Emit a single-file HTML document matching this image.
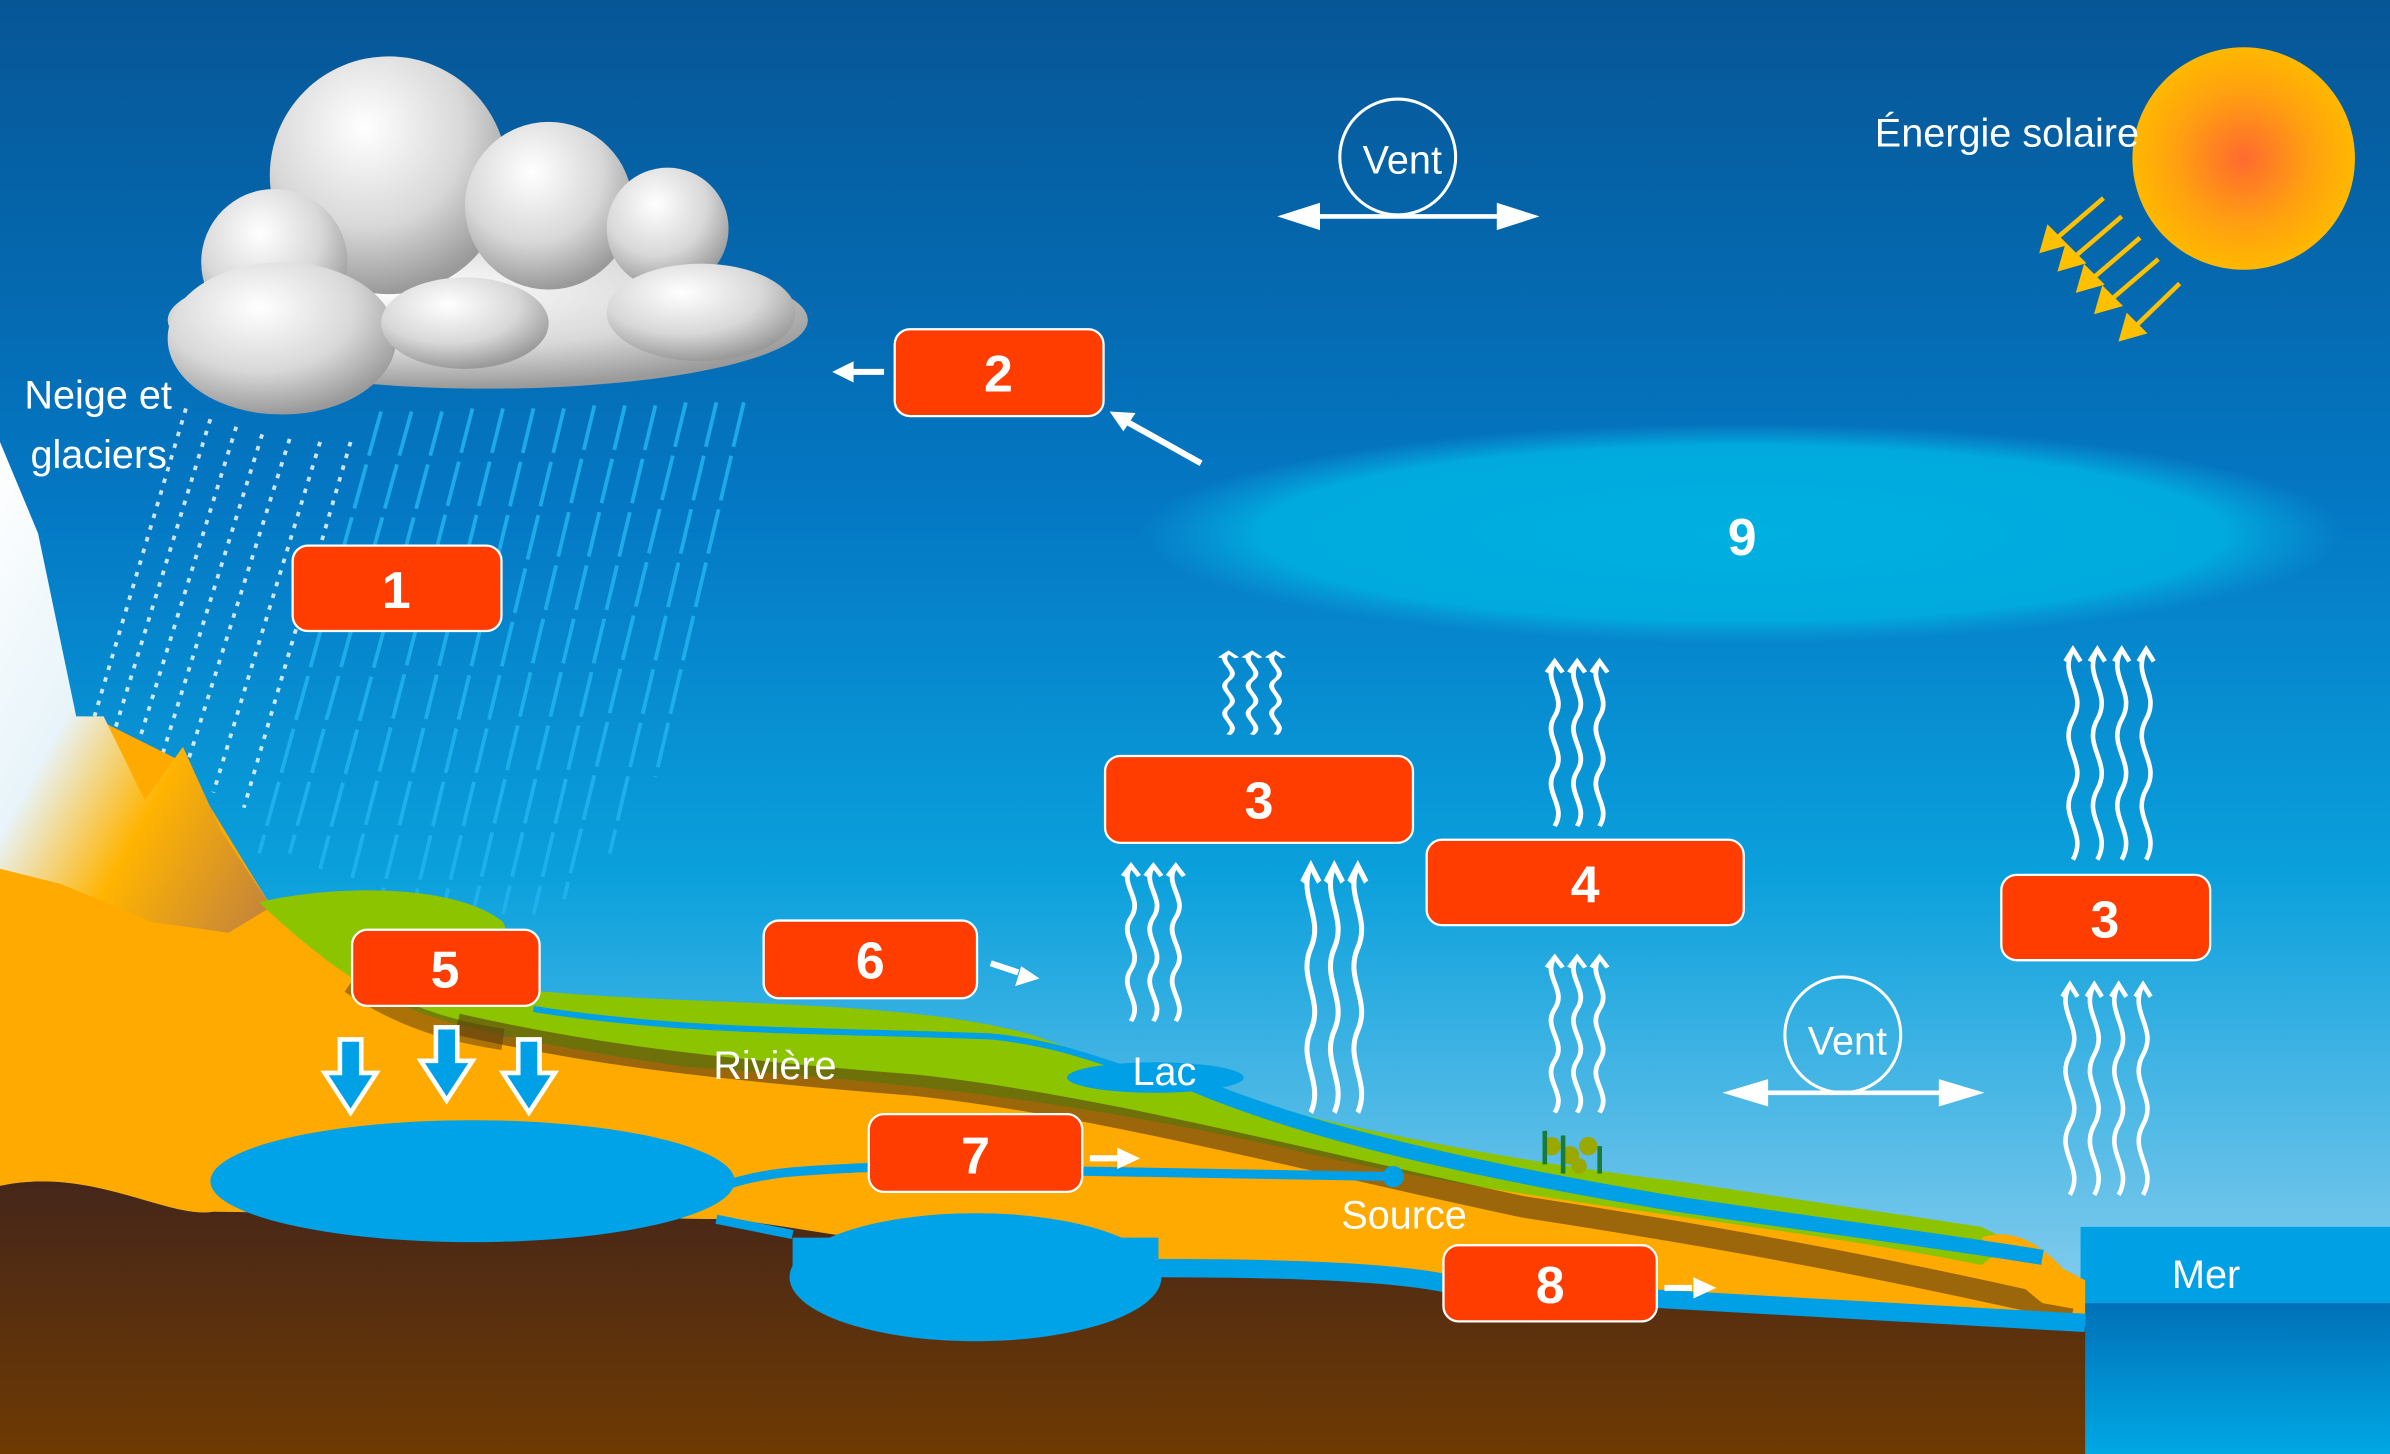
<!DOCTYPE html>
<html><head><meta charset="utf-8"><style>
html,body{margin:0;padding:0;background:#0a5a9a}
svg{display:block}
text{font-family:"Liberation Sans Narrow","Liberation Sans",sans-serif}
.n{font-family:"Liberation Sans",sans-serif;font-weight:bold;fill:#fff;font-size:34px;text-anchor:middle}
.l{fill:#fff;font-size:26px}
</style></head><body>
<svg width="2390" height="1454" viewBox="0 0 1568 954" preserveAspectRatio="none" xmlns="http://www.w3.org/2000/svg">
<defs>
<linearGradient id="sky" x1="0" y1="0" x2="0" y2="1">
<stop offset="0" stop-color="#065696"/><stop offset="0.35" stop-color="#0478c4"/><stop offset="0.6" stop-color="#0aa0dc"/><stop offset="1" stop-color="#b0dcf4"/></linearGradient>
<linearGradient id="brown" x1="0" y1="0" x2="0" y2="1"><stop offset="0" stop-color="#45261a"/><stop offset="1" stop-color="#6e3a02"/></linearGradient>
<linearGradient id="sea" x1="0" y1="0" x2="0" y2="1"><stop offset="0" stop-color="#0070b8"/><stop offset="1" stop-color="#00a8e4"/></linearGradient>
<radialGradient id="sun" cx="0.5" cy="0.5" r="0.5"><stop offset="0" stop-color="#ff6a30"/><stop offset="0.6" stop-color="#ffa010"/><stop offset="1" stop-color="#ffb800"/></radialGradient>
<radialGradient id="cl" cx="0.4" cy="0.3" r="0.7"><stop offset="0" stop-color="#ffffff"/><stop offset="0.6" stop-color="#d8d8d8"/><stop offset="1" stop-color="#9a9a9a"/></radialGradient>
<radialGradient id="hum" cx="0.5" cy="0.5" r="0.5"><stop offset="0" stop-color="#00b0e0"/><stop offset="0.8" stop-color="#00aade"/><stop offset="1" stop-color="#0aa0dc" stop-opacity="0"/></radialGradient>
<linearGradient id="mtn" x1="0" y1="0" x2="1" y2="1"><stop offset="0" stop-color="#ffffff"/><stop offset="0.4" stop-color="#e8f4fa"/><stop offset="0.65" stop-color="#ffb400"/><stop offset="1" stop-color="#c08040"/></linearGradient>
<g id="w3" fill="none" stroke="#fff" stroke-width="3">
<path d="M0,0 c-8,15 8,25 0,40 c-8,15 8,25 0,40 c-8,15 8,25 0,40"/>
<path d="M14,0 c-8,15 8,25 0,40 c-8,15 8,25 0,40 c-8,15 8,25 0,40"/>
<path d="M28,0 c-8,15 8,25 0,40 c-8,15 8,25 0,40 c-8,15 8,25 0,40"/>
<path d="M-5,8 L0,0 L5,8 M9,8 L14,0 L19,8 M23,8 L28,0 L33,8"/>
</g>
<g id="w4" fill="none" stroke="#fff" stroke-width="3">
<path d="M0,0 c-10,18 10,28 0,46 c-10,18 10,28 0,46 c-10,18 10,28 0,46"/>
<path d="M16,0 c-10,18 10,28 0,46 c-10,18 10,28 0,46 c-10,18 10,28 0,46"/>
<path d="M32,0 c-10,18 10,28 0,46 c-10,18 10,28 0,46 c-10,18 10,28 0,46"/>
<path d="M48,0 c-10,18 10,28 0,46 c-10,18 10,28 0,46 c-10,18 10,28 0,46"/>
<path d="M-5,8 L0,0 L5,8 M11,8 L16,0 L21,8 M27,8 L32,0 L37,8 M43,8 L48,0 L53,8"/>
</g>
<g id="da"><path d="M-7,0 h14 v22 h10 l-17,26 l-17,-26 h10 z" fill="#00a0e6" stroke="#fff" stroke-width="3"/></g>
</defs>
<rect width="1568" height="954" fill="url(#sky)"/>
<rect x="1365" y="805" width="203" height="50" fill="#00a0e4"/>
<rect x="1365" y="855" width="203" height="99" fill="url(#sea)"/>
<ellipse cx="1143" cy="350" rx="395" ry="72" fill="url(#hum)"/>
<text x="1143" y="364" class="n" font-size="32">9</text>
<circle cx="1472" cy="104" r="73" fill="url(#sun)"/>
<g stroke="#ffc000" stroke-width="3" fill="#ffc000">
<line x1="1380" y1="130" x2="1345" y2="160"/><line x1="1392" y1="142" x2="1357" y2="172"/><line x1="1404" y1="156" x2="1369" y2="186"/><line x1="1416" y1="170" x2="1381" y2="200"/><line x1="1430" y1="186" x2="1397" y2="218"/>
<path d="M1340,164 l4,-14 l10,10z M1352,176 l4,-14 l10,10z M1364,190 l4,-14 l10,10z M1376,204 l4,-14 l10,10z M1392,222 l4,-14 l10,10z"/>
</g>
<text x="1230" y="96" class="l" font-size="23">Énergie  solaire</text>
<circle cx="917" cy="103" r="38" fill="none" stroke="#fff" stroke-width="2"/>
<text x="894" y="114" class="l" font-size="28">Vent</text>
<line x1="860" y1="142" x2="990" y2="142" stroke="#fff" stroke-width="3"/>
<path d="M838,142 l28,-9 v18z M1010,142 l-28,-9 v18z" fill="#fff"/>
<circle cx="1209" cy="679" r="38" fill="none" stroke="#fff" stroke-width="2"/>
<text x="1186" y="692" class="l" font-size="28">Vent</text>
<line x1="1150" y1="717" x2="1280" y2="717" stroke="#fff" stroke-width="3"/>
<path d="M1130,717 l30,-9 v18z M1302,717 l-30,-9 v18z" fill="#fff"/>
<g stroke="#22b4f0" stroke-width="2.5" stroke-dasharray="30,6" opacity="0.85">
<line x1="250" y1="270" x2="170" y2="560"/><line x1="270" y1="270" x2="190" y2="560"/><line x1="290" y1="270" x2="210" y2="570"/>
<line x1="310" y1="268" x2="230" y2="580"/><line x1="330" y1="268" x2="250" y2="590"/><line x1="350" y1="268" x2="270" y2="600"/>
<line x1="370" y1="268" x2="290" y2="600"/><line x1="390" y1="266" x2="310" y2="600"/><line x1="410" y1="266" x2="330" y2="600"/>
<line x1="430" y1="266" x2="350" y2="600"/><line x1="450" y1="264" x2="370" y2="590"/><line x1="470" y1="264" x2="400" y2="560"/><line x1="488" y1="264" x2="430" y2="510"/>
</g>
<g stroke="#fff" stroke-width="2.5" stroke-dasharray="3,5" opacity="0.8">
<line x1="122" y1="268" x2="62" y2="470"/><line x1="138" y1="275" x2="75" y2="480"/><line x1="155" y1="280" x2="90" y2="490"/>
<line x1="172" y1="285" x2="105" y2="500"/><line x1="190" y1="288" x2="120" y2="510"/><line x1="210" y1="290" x2="140" y2="520"/><line x1="230" y1="290" x2="160" y2="530"/>
</g>
<g fill="url(#cl)">
<ellipse cx="320" cy="210" rx="210" ry="45"/>
<circle cx="255" cy="115" r="78"/><circle cx="360" cy="135" r="55"/><circle cx="438" cy="150" r="40"/>
<circle cx="180" cy="172" r="48"/><ellipse cx="185" cy="222" rx="75" ry="50"/>
<ellipse cx="305" cy="212" rx="55" ry="30"/><ellipse cx="460" cy="205" rx="62" ry="32"/>
</g>
<text x="16" y="268" class="l" font-size="26">Neige et</text>
<text x="20" y="307" class="l" font-size="26">glaciers</text>
<path d="M0,778 C60,765 110,800 140,795 L480,800 C560,810 640,830 760,830 C900,832 1100,855 1368,870 L1368,954 L0,954Z" fill="url(#brown)"/>
<path d="M0,560 L60,470 L120,500 L175,590 L330,680 L600,700 L900,760 L1310,810 L1368,840 L1368,870 C1100,855 900,832 760,830 C640,830 560,810 480,800 L140,795 C110,800 60,765 0,778Z" fill="#ffaa00"/>
<path d="M0,290 L25,350 L50,470 L68,470 L95,525 L120,490 L145,545 L178,595 L150,612 L100,605 L40,580 L0,570Z" fill="url(#mtn)"/>
<path d="M170,592 C220,580 300,580 330,605 L350,650 C450,660 600,655 680,680 C760,710 900,750 1100,775 L1300,805 L1320,815 L1300,830 C1150,800 1000,790 850,755 C720,725 600,710 450,700 C380,690 330,680 300,672 C250,660 210,630 170,592Z" fill="#8cc400"/>
<path d="M300,672 C380,690 450,700 600,712 C720,725 850,760 1000,792 C1150,815 1250,835 1360,860" fill="none" stroke="#5a3a10" stroke-width="14" opacity="0.6"/>
<path d="M230,645 C260,665 290,676 330,682" fill="none" stroke="#5a3a10" stroke-width="14" opacity="0.5"/>
<path d="M1300,812 C1320,805 1340,815 1360,840 L1368,860 L1340,855 C1320,840 1310,825 1300,812Z" fill="#ffaa00"/>
<g fill="none" stroke="#00a0e6">
<path d="M350,662 C450,678 550,676 650,680 C700,685 730,700 760,708" stroke-width="4"/>
<path d="M780,710 C850,740 950,765 1100,790 C1200,805 1280,815 1340,825" stroke-width="10"/>
<path d="M470,780 C500,768 530,768 570,766 L915,772" stroke-width="6"/>
<path d="M470,800 L520,810" stroke-width="6"/>
<path d="M755,832 C850,832 930,835 960,845 L1368,868" stroke-width="12"/>
</g>
<ellipse cx="758" cy="707" rx="58" ry="10" fill="#00a0e6"/>
<circle cx="914" cy="772" r="7" fill="#00a0e6"/>
<ellipse cx="310" cy="775" rx="172" ry="40" fill="#00a3e8"/>
<ellipse cx="640" cy="838" rx="122" ry="42" fill="#00a3e8"/>
<path d="M520,812 L760,812 L760,835 L520,835Z" fill="#00a3e8"/>
<g fill="#9aa800"><circle cx="1018" cy="752" r="6"/><circle cx="1030" cy="758" r="6"/><circle cx="1042" cy="752" r="6"/><circle cx="1036" cy="765" r="5"/></g>
<g fill="#1a7a3a"><rect x="1012" y="742" width="3" height="22"/><rect x="1024" y="745" width="3" height="25"/><rect x="1048" y="752" width="3" height="18"/></g>
<use href="#w3" transform="translate(806,428) scale(1.1,0.45)"/>
<use href="#w3" transform="translate(1020,434) scale(1.05,0.9)"/>
<use href="#w3" transform="translate(742,568) scale(1.05,0.85)"/>
<use href="#w3" transform="translate(860,568) scale(1.1,1.35)"/>
<use href="#w3" transform="translate(1020,628) scale(1.05,0.85)"/>
<use href="#w4" transform="translate(1360,426)"/>
<use href="#w4" transform="translate(1358,646)"/>
<use href="#da" x="230" y="682"/><use href="#da" x="293" y="674"/><use href="#da" x="347" y="682"/>
<g stroke="#fff" stroke-width="4" fill="#fff">
<line x1="580" y1="244" x2="560" y2="244"/><path d="M546,244 l14,-7 v14z" stroke="none"/>
<line x1="788" y1="304" x2="738" y2="276"/><path d="M728,270 l17,1 l-8,12z" stroke="none"/>
<line x1="650" y1="632" x2="668" y2="638"/><path d="M682,642 l-16,5 l4,-13z" stroke="none"/>
<line x1="715" y1="760" x2="733" y2="760"/><path d="M748,760 l-15,-7 v14z" stroke="none"/>
<line x1="1092" y1="845" x2="1110" y2="845"/><path d="M1126,845 l-15,-7 v14z" stroke="none"/>
</g>
<text x="468" y="708" class="l" font-size="24">Rivière</text>
<text x="743" y="712" class="l" font-size="20">Lac</text>
<text x="880" y="806" class="l" font-size="26">Source</text>
<text x="1425" y="845" class="l" font-size="34">Mer</text>
<g fill="#ff3d00" stroke="#fff" stroke-width="1.5">
<rect x="192" y="358" width="137" height="56" rx="10"/>
<rect x="587" y="216" width="137" height="57" rx="10"/>
<rect x="725" y="496" width="202" height="57" rx="10"/>
<rect x="936" y="551" width="208" height="56" rx="10"/>
<rect x="1313" y="574" width="137" height="56" rx="10"/>
<rect x="231" y="610" width="123" height="50" rx="10"/>
<rect x="501" y="604" width="140" height="51" rx="10"/>
<rect x="570" y="731" width="140" height="51" rx="10"/>
<rect x="947" y="817" width="140" height="50" rx="10"/>
</g>
<text x="260" y="399" class="n">1</text>
<text x="655" y="257" class="n">2</text>
<text x="826" y="537" class="n">3</text>
<text x="1040" y="592" class="n">4</text>
<text x="1381" y="615" class="n">3</text>
<text x="292" y="648" class="n">5</text>
<text x="571" y="642" class="n">6</text>
<text x="640" y="770" class="n">7</text>
<text x="1017" y="855" class="n">8</text>
</svg>
</body></html>
